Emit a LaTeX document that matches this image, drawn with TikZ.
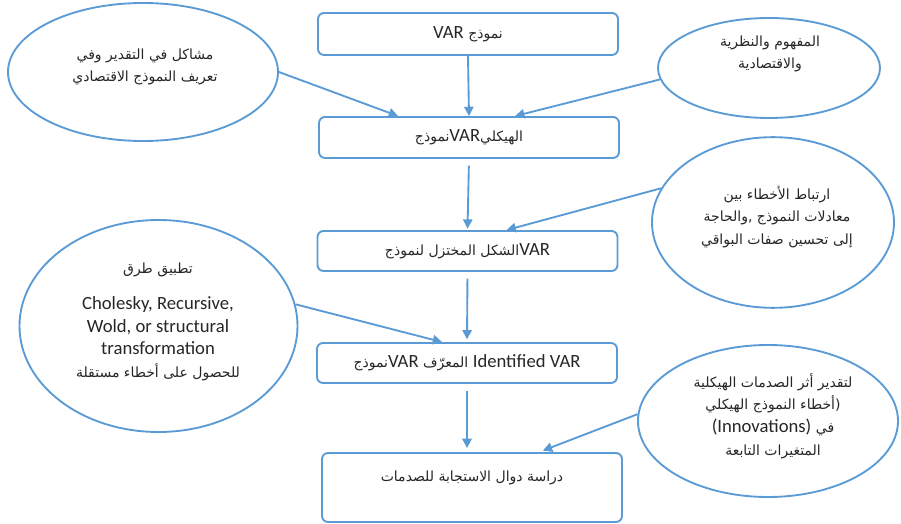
\documentclass[tikz,border=0pt]{standalone}
\usepackage{fontspec}
\setmainfont{Carlito}
\newfontfamily\arabicfont[Script=Arabic]{DejaVu Sans}
\newfontfamily\latinfont{Carlito}
\TeXXeTstate=1
\usetikzlibrary{shapes.geometric, positioning, arrows.meta}
\definecolor{lineBlue}{RGB}{91,155,213}
\newcommand{\artxt}[1]{{\arabicfont\fontsize{10.5}{17}\selectfont\beginR #1\endR}}
\newcommand{\entxt}[1]{\beginL{\latinfont\fontsize{14}{17}\selectfont #1}\endL}
\tikzset{
    ->, % every connector is an arrow
    >={Triangle[length=7pt, width=7pt]}, % small filled heads
    styleEdge/.style={lineBlue, line width=1.4pt},
}

\begin{document}
\begin{tikzpicture}[
                        x=0.75pt, y=-0.75pt,
                        styleBox/.style={draw=lineBlue, line width=1.4pt, rounded corners=4.5pt, minimum width=225pt, inner sep=0pt, text=black!85, font=\fontsize{14}{17}\selectfont},
                        styleOval/.style={ellipse, draw=lineBlue, line width=1.4pt, inner sep=0pt},
                        styleText/.style={align=center, inner sep=0pt, text=black!85, font=\fontsize{14}{17}\selectfont},
                    ]
                    \useasboundingbox (0,0) rectangle (901,524);
                    % main chain
                    \node[styleBox, minimum height=31.5pt] (b1) at (468,34) {\artxt{نموذج \entxt{VAR}}};
                    \node[styleBox, minimum height=30.75pt] (b2) at (469,137.5) {\artxt{الهيكلي\entxt{VAR}نموذج}};
                    \node[styleBox, minimum height=30pt] (b3) at (467.5,251) {\artxt{\entxt{VAR}الشكل المختزل لنموذج}};
                    \node[styleBox, minimum height=30pt] (b4) at (467,363) {\artxt{\entxt{Identified VAR} المعرّف \entxt{VAR}نموذج}};
                    \node[styleBox, minimum height=51.75pt] (b5) at (472,487.5) {};
                    \node[styleText] (t6) at (472,478) {\artxt{دراسة دوال الاستجابة للصدمات}};
                    % side ovals
                    \node[styleOval, minimum width=202.5pt, minimum height=103.5pt] (e1) at (143,72) {};
                    \node[styleOval, minimum width=166.5pt, minimum height=75pt] (e2) at (769,68) {};
                    \node[styleOval, minimum width=181.5pt, minimum height=128pt] (e3) at (773,222.5) {};
                    \node[styleOval, minimum width=208.5pt, minimum height=159pt] (e4) at (158.5,326) {};
                    \node[styleOval, minimum width=195pt, minimum height=114pt] (e5) at (768,421) {};
                    \node[styleText] (t1) at (145,67) {\artxt{مشاكل في التقدير وفي}\\\artxt{تعريف النموذج الاقتصادي}};
                    \node[styleText] (t2) at (770,54) {\artxt{المفهوم والنظرية}\\\artxt{والاقتصادية}};
                    \node[styleText] (t3) at (777,217) {\artxt{ارتباط الأخطاء بين}\\\artxt{معادلات النموذج \beginL,\endL{}والحاجة}\\\artxt{إلى تحسين صفات البواقي}};
                    \node[styleText] (t4) at (158,322) {\artxt{تطبيق طرق}\\[10pt]Cholesky, Recursive,\\Wold, or structural\\transformation\\\artxt{للحصول على أخطاء مستقلة}};
                    \node[styleText] (t5) at (773,416) {\artxt{لتقدير أثر الصدمات الهيكلية}\\\artxt{\beginL(\endL{}أخطاء النموذج الهيكلي}\\\artxt{في \entxt{(Innovations)}}\\\artxt{المتغيرات التابعة}};
                    \path[styleEdge]
                    (b1.south) edge (b2.north)
                    (b2.south) edge[shorten <=5pt, shorten >=1pt] (b3.north)
                    (b3.south) edge[shorten <=5pt, shorten >=2pt] (b4.north)
                    (b4.south) edge[shorten <=5pt, shorten >=3pt] (b4.south |- b5.north)
                    (e1.east) edge ([xshift=60pt]b2.north west)
                    (e2.186) edge ([xshift=147.75pt]b2.north west)
                    (e3.163) edge ([xshift=142.5pt]b3.north west)
                    (e4.9) edge ([xshift=94.5pt]b4.north west)
                    (e5.177) edge[shorten >=3pt] ([xshift=163.5pt]b5.north west);
                \end{tikzpicture}
\end{document}
